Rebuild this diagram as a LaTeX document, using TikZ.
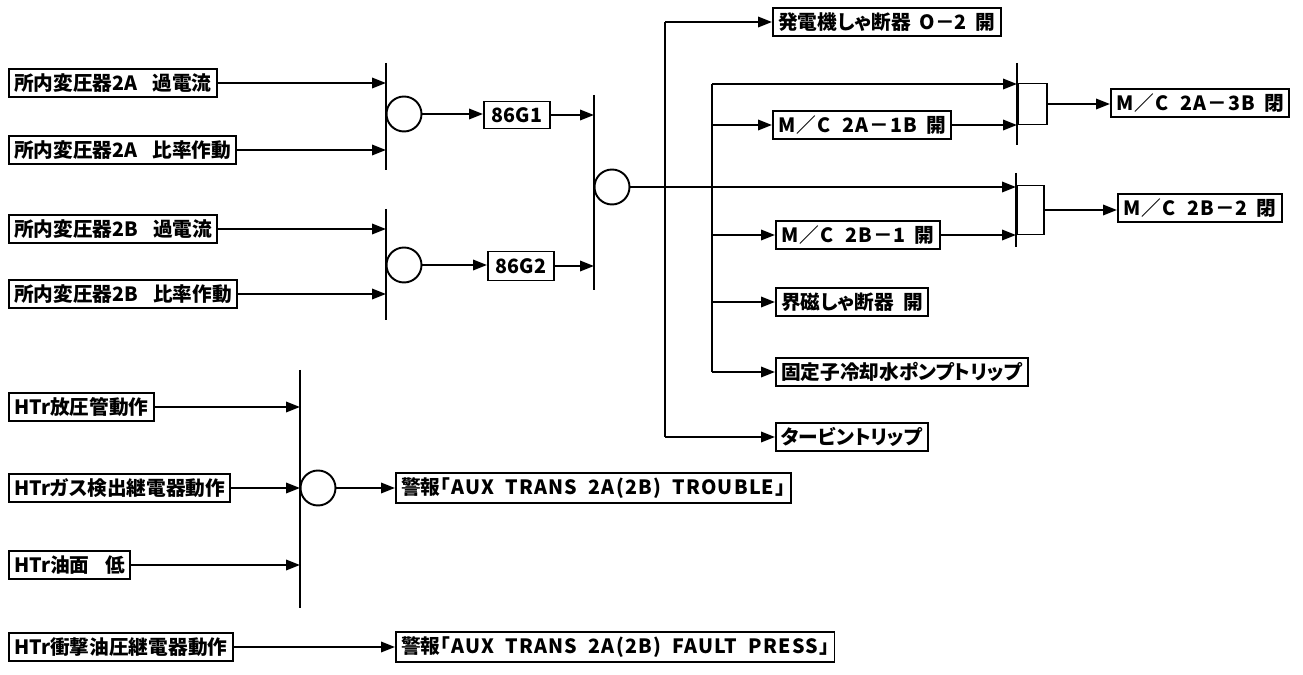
\documentclass[tikz,border=0pt]{standalone}
\usepackage{fontspec}
\setmainfont[RawFeature=+palt]{Noto Sans CJK JP}
\newfontfamily\widefont[LetterSpace=6]{Noto Sans CJK JP}
\usetikzlibrary{arrows.meta}
\tikzset{
  box/.style={draw, line width=1.1pt, anchor=west, inner xsep=3pt, inner ysep=2.6pt,
    font=\fontsize{11.2}{13}\selectfont\bfseries},
  junc/.style={draw, circle, line width=1.1pt, minimum size=0.7cm, inner sep=0pt},
  andbox/.style={draw, line width=1.1pt, inner sep=0pt},
  flow/.style={line width=1.1pt, -{Triangle[length=2.8mm,width=2.1mm]}},
  bus/.style={line width=1.1pt},
}
\begin{document}
\begin{tikzpicture}[x=0.02cm, y=-0.02cm]
\useasboundingbox (0,0) rectangle (1303,675);
% transformer protection inputs
\node[box] (tr2Aoc) at (8,83) {所内変圧器2A\hspace{0.75em}過電流};
\node[box] (tr2Adf) at (8,150) {所内変圧器2A\hspace{0.75em}比率作動};
\node[box] (tr2Boc) at (8,229) {所内変圧器2B\hspace{0.75em}過電流};
\node[box] (tr2Bdf) at (8,294) {所内変圧器2B\hspace{0.75em}比率作動};
\coordinate (orAtop) at (386,63); \coordinate (orAbot) at (386,170);
\coordinate (orBtop) at (386,209); \coordinate (orBbot) at (386,320);
\draw[bus] (orAtop) -- (orAbot); \draw[bus] (orBtop) -- (orBbot);
\draw[flow] (tr2Aoc) -- (tr2Aoc -| orAtop);
\draw[flow] (tr2Adf) -- (tr2Adf -| orAtop);
\draw[flow] (tr2Boc) -- (tr2Boc -| orBtop);
\draw[flow] (tr2Bdf) -- (tr2Bdf -| orBtop);
\node[junc] (jA) at (404,114) {};
\node[junc] (jB) at (404,265) {};
\node[box, minimum width=1.32cm, minimum height=0.54cm] (g1) at (483,115) {86G1};
\node[box, minimum width=1.32cm, minimum height=0.58cm] (g2) at (487,266) {86G2};
\draw[flow] (jA) -- (jA -| g1.west);
\draw[flow] (jB) -- (jB -| g2.west);
% 86 lockout
\coordinate (orCtop) at (594,95); \coordinate (orCbot) at (594,290);
\draw[bus] (orCtop) -- (orCbot);
\draw[flow] (g1) -- (g1 -| orCtop);
\draw[flow] (g2) -- (g2 -| orCtop);
\node[junc] (jC) at (612,187) {};
% trip outputs
\node[box] (genCB) at (772,22) {発電機しゃ断器\ \ {\widefont O}－2\ \ 開};
\node[box] (mc1B) at (772,125) {{\widefont M／C\ \ 2A－1B}\ \ 開};
\node[box] (mc21) at (775,235) {{\widefont M／C\ \ 2B－1}\ \ 開};
\node[box] (fieldCB) at (775,302) {界磁しゃ断器\ \ 開};
\node[box] (statorP) at (775,372) {固定子冷却水ポンプトリップ};
\node[box] (turb) at (775,437) {タービントリップ};
\node[box] (mc3B) at (1110,103) {{\widefont M／C\ \ 2A－3B}\ \ 閉};
\node[box] (mc22) at (1117,208) {{\widefont M／C\ \ 2B－2}\ \ 閉};
\coordinate (obTop) at (665,22); \coordinate (obBot) at (665,437);
\coordinate (ibTop) at (712,84); \coordinate (ibBot) at (712,372);
\draw[bus] (obTop) -- (obBot); \draw[bus] (ibTop) -- (ibBot);
\draw[flow] (obTop) -- (genCB);
\draw[flow] (obBot) -- (turb);
\draw[flow] (mc1B -| ibTop) -- (mc1B);
\draw[flow] (mc21 -| ibTop) -- (mc21);
\draw[flow] (fieldCB -| ibTop) -- (fieldCB);
\draw[flow] (ibBot) -- (statorP);
% breaker close logic
\coordinate (andAtop) at (1017,63); \coordinate (andAbot) at (1017,145);
\coordinate (andBtop) at (1016,173); \coordinate (andBbot) at (1016,247);
\draw[bus] (andAtop) -- (andAbot); \draw[bus] (andBtop) -- (andBbot);
\node[andbox, minimum width=0.58cm, minimum height=0.82cm, anchor=west] (andA) at (1017,104) {};
\node[andbox, minimum width=0.54cm, minimum height=0.98cm, anchor=west] (andB) at (1016,210) {};
\draw[flow] (ibTop) -- (ibTop -| andAtop);
\draw[flow] (mc1B) -- (mc1B -| andAtop);
\draw[flow] (jC) -- (jC -| andBtop);
\draw[flow] (mc21) -- (mc21 -| andBtop);
\draw[flow] (andA) -- (andA -| mc3B.west);
\draw[flow] (andB) -- (andB -| mc22.west);
% transformer alarms
\node[box] (htrRel) at (8,407) {HTr放圧管動作};
\node[box] (htrGas) at (8,488) {HTrガス検出継電器動作};
\node[box] (htrOil) at (8,565) {HTr油面\hspace{0.8em}低};
\coordinate (orDtop) at (300,370); \coordinate (orDbot) at (300,608);
\draw[bus] (orDtop) -- (orDbot);
\draw[flow] (htrRel) -- (htrRel -| orDtop);
\draw[flow] (htrGas) -- (htrGas -| orDtop);
\draw[flow] (htrOil) -- (htrOil -| orDtop);
\node[junc] (jD) at (318,488) {};
\node[box] (almTr) at (395,488) {警報{\widefont ｢AUX\ \ TRANS\ \ 2A(2B)\ \ TROUBLE｣}};
\draw[flow] (jD) -- (almTr);
\node[box] (htrShk) at (8,647) {HTr衝撃油圧継電器動作};
\node[box] (almFp) at (395,647) {警報{\widefont ｢AUX\ \ TRANS\ \ 2A(2B)\ \ FAULT\ \ PRESS｣}};
\draw[flow] (htrShk) -- (almFp);
\end{tikzpicture}
\end{document}
